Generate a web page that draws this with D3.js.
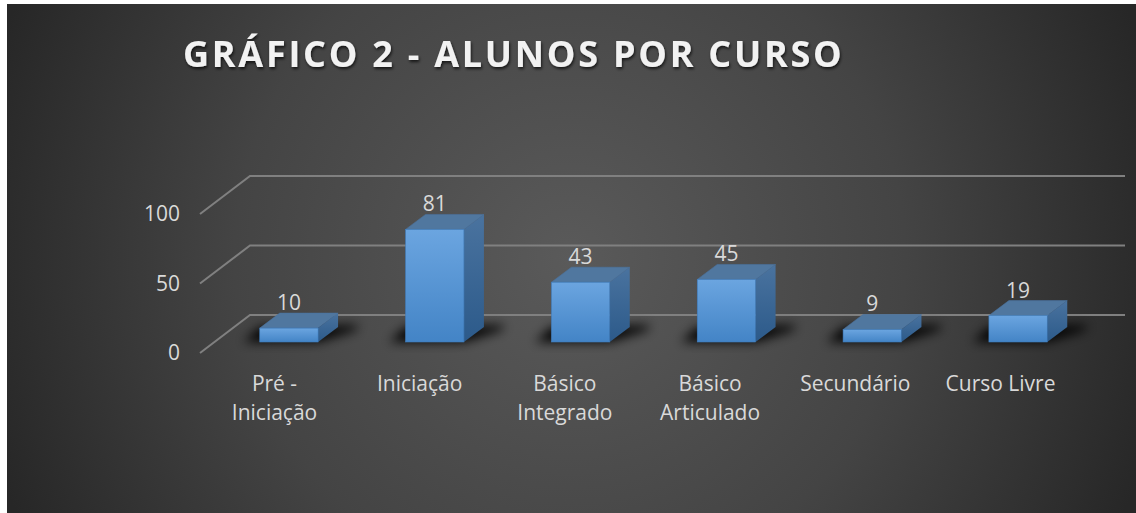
<!DOCTYPE html>
<html><head><meta charset="utf-8">
<script src="https://cdn.jsdelivr.net/npm/d3@7"></script>
<style>html,body{margin:0;padding:0;background:#fff}svg{display:block}</style></head>
<body><svg id="c" width="1136" height="513"></svg>
<script>
const categories = [["Pré -","Iniciação"],["Iniciação"],["Básico","Integrado"],["Básico","Articulado"],["Secundário"],["Curso Livre"]];
const values = [10,81,43,45,9,19];
const yTicks = [0,50,100];
const titleText = "GRÁFICO 2 - ALUNOS POR CURSO";

const svg = d3.select("#c");
const defs = svg.append("defs");
const bgG = defs.append("radialGradient").attr("id","bg").attr("gradientUnits","userSpaceOnUse")
  .attr("cx",570).attr("cy",258).attr("r",610);
[[0,"#5a5a5a"],[0.55,"#444444"],[1,"#272727"]].forEach(s=>bgG.append("stop").attr("offset",s[0]).attr("stop-color",s[1]));
const fg = defs.append("linearGradient").attr("id","front").attr("x1",0).attr("y1",0).attr("x2",0).attr("y2",1);
fg.append("stop").attr("offset",0).attr("stop-color","#6ba5e0");
fg.append("stop").attr("offset",1).attr("stop-color","#4384c6");
const sg = defs.append("linearGradient").attr("id","side").attr("x1",0).attr("y1",0).attr("x2",0).attr("y2",1);
sg.append("stop").attr("offset",0).attr("stop-color","#4a739f");
sg.append("stop").attr("offset",1).attr("stop-color","#2c5a8a");
defs.append("filter").attr("id","blur").attr("x","-40%").attr("y","-60%").attr("width","180%").attr("height","220%")
  .append("feGaussianBlur").attr("stdDeviation",5.5);
const ts = defs.append("filter").attr("id","tshadow").attr("x","-5%").attr("y","-20%").attr("width","110%").attr("height","150%");
ts.append("feDropShadow").attr("dx",1).attr("dy",2).attr("stdDeviation",1.8).attr("flood-color","#000").attr("flood-opacity",0.7);

svg.append("rect").attr("x",7).attr("y",4).attr("width",1129).attr("height",509).attr("fill","url(#bg)");

const x = d3.scaleBand().domain(d3.range(values.length)).range([216,1091]).paddingInner(0.6).paddingOuter(0.3);
const xLabel = d3.scalePoint().domain(d3.range(categories.length)).range([274.5,1000.5]);
const barW = x.bandwidth();
const y = d3.scaleLinear().domain([0,100]).range([342,203]);
const y0 = y(0);
const DX = 20, DY = -15;
const gridFrontX = 200, gridBackX = 250, gridFrontDy = 11, gridBackDy = -27;

svg.append("g").selectAll("path").data(yTicks).join("path")
  .attr("d",d=>`M${gridFrontX},${y(d)+gridFrontDy}L${gridBackX},${y(d)+gridBackDy}L1125,${y(d)+gridBackDy}`)
  .attr("fill","none").attr("stroke","#808080").attr("stroke-width",2);

const font = "'Open Sans',sans-serif";
const fs = 21;
svg.append("g").selectAll("text").data(yTicks).join("text")
  .attr("x",180).attr("y",d=>y(d)+gridFrontDy+7).attr("text-anchor","end")
  .attr("font-family",font).attr("font-size",fs).attr("fill","#d9d9d9").text(d=>d);

const bars = svg.append("g").selectAll("g").data(values).join("g");
bars.append("path").attr("filter","url(#blur)").attr("fill","#000").attr("opacity",0.95)
  .attr("d",(d,i)=>{const l=x(i);return `M${l-16},${y0}L${l+barW},${y0}L${l+barW+DX+18},${y0+DY+3}L${l+barW+DX+20},${y0+DY-2}L${l+20},${y0+DY}L${l},${y0+DY}Z`;});
bars.append("path").attr("fill","#50779f").attr("stroke","#4a72a0").attr("stroke-width",0.6)
  .attr("d",(d,i)=>{const l=x(i),t=y(d);return `M${l},${t}L${l+DX},${t+DY}L${l+barW+DX},${t+DY}L${l+barW},${t}Z`;});
bars.append("path").attr("fill","url(#side)")
  .attr("d",(d,i)=>{const r=x(i)+barW,t=y(d);return `M${r},${t}L${r+DX},${t+DY}L${r+DX},${y0+DY}L${r},${y0}Z`;});
bars.append("rect").attr("x",(d,i)=>x(i)).attr("y",d=>y(d)).attr("width",barW).attr("height",d=>y0-y(d))
  .attr("fill","url(#front)").attr("stroke","#3f7dbd").attr("stroke-width",0.6);
bars.append("text").attr("x",(d,i)=>x(i)+barW/2).attr("y",d=>y(d)+DY-3).attr("text-anchor","middle")
  .attr("font-family",font).attr("font-size",fs).attr("fill","#d9d9d9").text(d=>d);

const lab = svg.append("g").selectAll("text").data(categories).join("text")
  .attr("text-anchor","middle").attr("font-family",font).attr("font-size",fs).attr("fill","#d9d9d9");
lab.each(function(d,i){
  d3.select(this).selectAll("tspan").data(d).join("tspan")
    .attr("x",xLabel(i)).attr("y",(s,j)=>391+j*29).text(s=>s);
});

svg.append("text").attr("x",183).attr("y",67).attr("font-family",font).attr("font-weight",700)
  .attr("font-size",36).attr("letter-spacing",2.75).attr("fill","#f2f2f2").attr("filter","url(#tshadow)").text(titleText);
</script></body></html>
